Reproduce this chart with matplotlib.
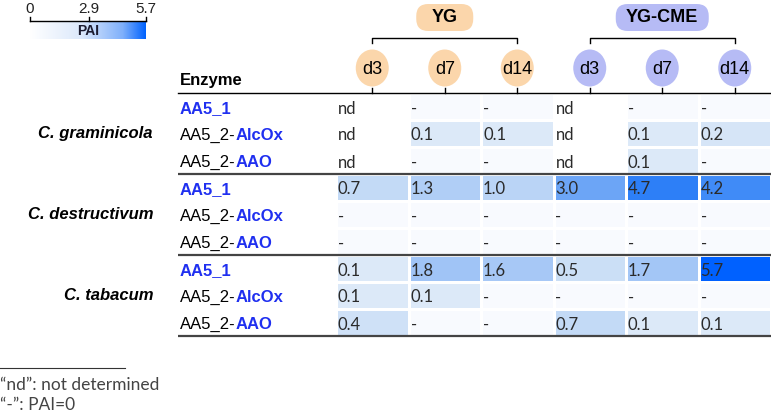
import matplotlib

matplotlib.use("Agg")
import matplotlib.pyplot as plt
import numpy as np
from matplotlib.colors import LinearSegmentedColormap, Normalize
from matplotlib.patches import Ellipse, FancyBboxPatch

# ---- data ----
species = ["C. graminicola", "C. destructivum", "C. tabacum"]
enzymes = ["AA5_1", "AA5_2-AlcOx", "AA5_2-AAO"]
media = ["YG", "YG-CME"]
days = ["d3", "d7", "d14"]

# PAI values, None = not determined ("nd"); 0 shown as "-"
g_graminicola = [
    [None, 0, 0, None, 0, 0],
    [None, 0.1, 0.1, None, 0.1, 0.2],
    [None, 0, 0, None, 0.1, 0],
]
g_destructivum = [
    [0.7, 1.3, 1.0, 3.0, 4.7, 4.2],
    [0, 0, 0, 0, 0, 0],
    [0, 0, 0, 0, 0, 0],
]
g_tabacum = [
    [0.1, 1.8, 1.6, 0.5, 1.7, 5.7],
    [0.1, 0.1, 0, 0, 0, 0],
    [0.4, 0, 0, 0.7, 0.1, 0.1],
]
pai_ticks = [0, 2.9, 5.7]

# ---- layout (pixels) ----
W, H = 771, 413
X0, CW = 336, 72.5
Y0, RH = 93, 27
LABEL_X = 180
SPECIES_X = 153
BLUE = "#1f2ff0"

rows = g_graminicola + g_destructivum + g_tabacum
vals = np.ma.masked_invalid(np.array(
    [[np.nan if v is None else v for v in r] for r in rows], dtype=float))

cell_cmap = LinearSegmentedColormap.from_list(
    "pai",
    [(0.0, "#f8fafe"), (0.1 / 5.7, "#d9e7f7"), (0.7 / 5.7, "#c3daf6"),
     (1.8 / 5.7, "#a0c4f6"), (3.0 / 5.7, "#6ca5f6"), (4.7 / 5.7, "#2e80f7"),
     (1.0, "#0061ff")])
legend_cmap = LinearSegmentedColormap.from_list(
    "pai_legend", [(0, "#ffffff"), (0.45, "#dbe8fb"), (0.8, "#7fb0fb"), (1, "#0062ff")])
norm = Normalize(0, pai_ticks[-1])

fig = plt.figure(figsize=(W / 100, H / 100), dpi=100)
ax = fig.add_axes([0, 0, 1, 1])
ax.set_xlim(0, W)
ax.set_ylim(H, 0)
ax.axis("off")

# heat cells
xe = X0 + CW * np.arange(vals.shape[1] + 1)
ye = Y0 + RH * np.arange(vals.shape[0] + 1)
ax.pcolormesh(xe, ye, vals, cmap=cell_cmap, norm=norm,
              edgecolors="white", linewidth=1)

num_font = dict(family="Lato", fontsize=12, color="#2a2a2a")
for i in range(vals.shape[0]):
    for j in range(vals.shape[1]):
        v = rows[i][j]
        txt = "nd" if v is None else ("-" if v == 0 else f"{v:.1f}")
        ax.text(xe[j] + 2, ye[i] + RH / 2 + 2, txt, ha="left", va="center", **num_font)

# enzyme labels and species names
lab_font = dict(family="Liberation Sans", fontsize=12)
for g, sp in enumerate(species):
    for k, enz in enumerate(enzymes):
        yc = Y0 + RH * (3 * g + k) + RH / 2 + 2
        if "-" in enz:
            head, tail = enz.split("-")
            t = ax.text(LABEL_X, yc, head + "-", ha="left", va="center",
                        color="black", **lab_font)
            ax.annotate(tail, xy=(1, 0.5), xycoords=t, ha="left", va="center",
                        color=BLUE, fontweight="bold", **lab_font)
        else:
            ax.text(LABEL_X, yc, enz, ha="left", va="center", color=BLUE,
                    fontweight="bold", **lab_font)
    ax.text(SPECIES_X, Y0 + RH * (3 * g + 1) + RH / 2, sp, ha="right", va="center",
            fontweight="bold", style="italic", **lab_font)
    # group separator
    ax.plot([178, W], [Y0 + RH * 3 * (g + 1)] * 2, color="#444444", lw=1.6,
            solid_capstyle="butt")

# header
ax.plot([178, W], [Y0, Y0], color="black", lw=1.0)
ax.text(LABEL_X, 81, "Enzyme", ha="left", va="center", fontweight="bold", **lab_font)

circle_colors = {"YG": "#fbd6ab", "YG-CME": "#b6bbf5"}
for m, med in enumerate(media):
    cols = [3 * m + d for d in range(len(days))]
    centers = [X0 + CW * (c + 0.5) for c in cols]
    for cx, d in zip(centers, days):
        ax.add_patch(Ellipse((cx, 68), 33, 37, color=circle_colors[med], lw=0))
        ax.text(cx, 69, d, ha="center", va="center", family="Liberation Sans",
                fontsize=13)
        ax.plot([cx, cx], [88, Y0], color="black", lw=1.0)
    # bracket
    ax.plot([centers[0], centers[0], centers[-1], centers[-1]], [43, 38, 38, 43],
            color="black", lw=1.0)
    mid = (centers[0] + centers[-1]) / 2
    pw = 57 if med == "YG" else 93
    ax.add_patch(FancyBboxPatch((mid - pw / 2 + 12, 4 + 12), pw - 24, 27 - 24,
                                boxstyle="round,pad=12", color=circle_colors[med], lw=0))
    ax.text(mid, 17, med, ha="center", va="center", fontweight="bold",
            family="Liberation Sans", fontsize=13)

# PAI legend
gx0, gx1 = 30, 146
grad = np.linspace(pai_ticks[0], pai_ticks[-1], 256)[None, :]
ax.imshow(grad, extent=[gx0, gx1, 39, 21], cmap=legend_cmap, norm=norm,
          aspect="auto", interpolation="bilinear", zorder=1)
ax.set_xlim(0, W)
ax.set_ylim(H, 0)
ax.plot([gx0, gx1], [20.7, 20.7], color="black", lw=1.0, zorder=3)
for tv in pai_ticks:
    tx = gx0 + (gx1 - gx0) * tv / pai_ticks[-1]
    ax.plot([tx, tx], [16.5, 20.7], color="black", lw=1.0, zorder=3)
    ax.text(tx, 9, f"{tv:g}" if tv == 0 else f"{tv:.1f}", ha="center", va="center",
            family="Liberation Sans", fontsize=11, color="#222222")
ax.text((gx0 + gx1) / 2, 31, "PAI", ha="center", va="center", fontweight="bold",
        family="Liberation Sans", fontsize=10, color="#1c1c30", zorder=3)

# footnote
ax.plot([0, 125], [368, 368], color="#333333", lw=0.8)
foot = dict(family="Lato", fontsize=12.5, color="#444444", ha="left", va="center")
ax.text(0, 385, "\u201cnd\u201d: not determined", **foot)
ax.text(0, 405, "\u201c-\u201d: PAI=0", **foot)

fig.savefig("out.png", dpi=100)
